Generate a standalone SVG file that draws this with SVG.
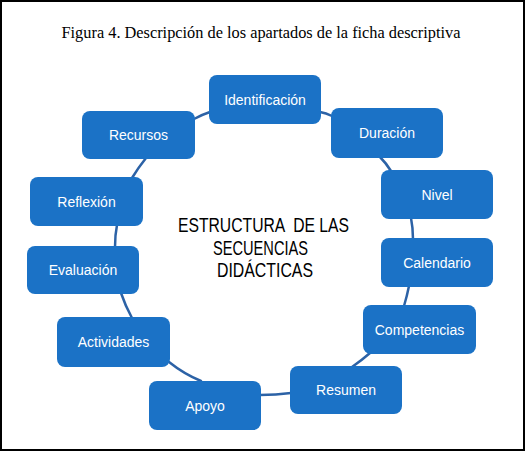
<svg xmlns="http://www.w3.org/2000/svg" width="526" height="452" viewBox="0 0 526 452">
<style>
.node rect{fill:#1B72C6;}
.node text{fill:#ffffff;font-family:"Liberation Sans",Arial,sans-serif;font-size:14px;text-anchor:middle;}
.conn path{fill:none;stroke:#2C62A6;stroke-width:2.5;stroke-linecap:round;}
.center{font-family:"Liberation Sans",Arial,sans-serif;font-size:20px;fill:#000;text-anchor:middle;}
.title{font-family:"Liberation Serif","Times New Roman",serif;font-size:16px;fill:#000;text-anchor:middle;}
</style>
<rect x="0" y="0" width="526" height="452" fill="#ffffff"/>
<rect x="1" y="1" width="523" height="449" fill="none" stroke="#000" stroke-width="2"/>
<text class="title" x="261" y="38" textLength="399" lengthAdjust="spacingAndGlyphs">Figura 4. Descripción de los apartados de la ficha descriptiva</text>
<g id="connectors" class="conn">
<path d="M320,112 Q326,113 332,116"/>
<path d="M380,157 Q386,163 391,171"/>
<path d="M411,218 Q413,228 413,239"/>
<path d="M409,286 Q407,296 404,306"/>
<path d="M370,353 Q362,360 352,367"/>
<path d="M260,395 Q276,395 291,393"/>
<path d="M169,362 Q184,374 201,381"/>
<path d="M121,293 Q125,305 132,318"/>
<path d="M117,225 Q115,235 115,247"/>
<path d="M132,178 Q138,168 146,158"/>
<path d="M194,119 Q201,115 210,112"/>
</g>
<g id="identificacion" class="node"><rect x="209" y="75" width="112" height="49" rx="8"/><text x="265" y="104.5">Identificación</text></g>
<g id="duracion" class="node"><rect x="331" y="108" width="112" height="50" rx="8"/><text x="387" y="138">Duración</text></g>
<g id="nivel" class="node"><rect x="381" y="170" width="112" height="49" rx="8"/><text x="437" y="199.5">Nivel</text></g>
<g id="calendario" class="node"><rect x="381" y="238" width="112" height="49" rx="8"/><text x="437" y="267.5">Calendario</text></g>
<g id="competencias" class="node"><rect x="363" y="305" width="113" height="49" rx="8"/><text x="419.5" y="334.5">Competencias</text></g>
<g id="resumen" class="node"><rect x="290" y="366" width="112" height="48" rx="8"/><text x="346" y="395">Resumen</text></g>
<g id="apoyo" class="node"><rect x="149" y="381" width="112" height="49" rx="8"/><text x="205" y="410.5">Apoyo</text></g>
<g id="actividades" class="node"><rect x="57" y="317" width="113" height="50" rx="8"/><text x="113.5" y="347">Actividades</text></g>
<g id="evaluacion" class="node"><rect x="27" y="246" width="112" height="48" rx="8"/><text x="83" y="275">Evaluación</text></g>
<g id="reflexion" class="node"><rect x="30" y="177" width="113" height="49" rx="8"/><text x="86.5" y="206.5">Reflexión</text></g>
<g id="recursos" class="node"><rect x="82" y="111" width="113" height="48" rx="8"/><text x="138.5" y="140">Recursos</text></g>
<g id="centro">
<text class="center" x="263.5" y="232" textLength="171" lengthAdjust="spacingAndGlyphs" xml:space="preserve">ESTRUCTURA  DE LAS</text>
<text class="center" x="260.5" y="254.5" textLength="95" lengthAdjust="spacingAndGlyphs">SECUENCIAS</text>
<text class="center" x="265" y="277" textLength="96" lengthAdjust="spacingAndGlyphs">DIDÁCTICAS</text>
</g>
</svg>
